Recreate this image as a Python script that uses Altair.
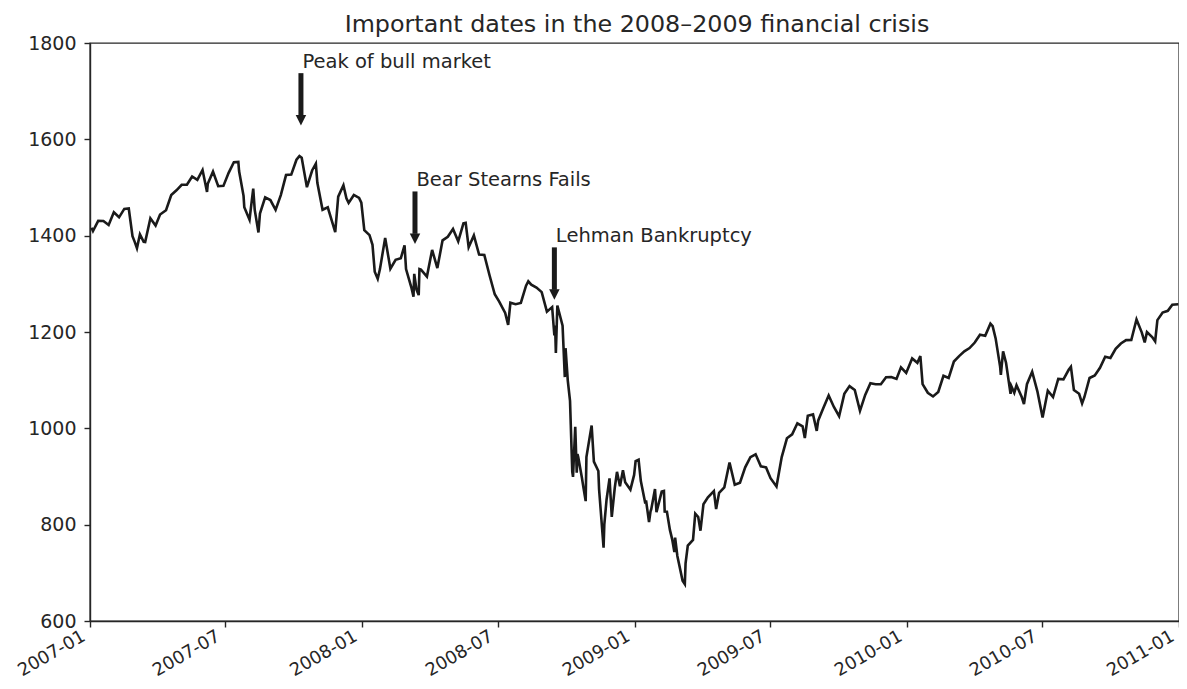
import altair as alt
import pandas as pd

# S&P 500 closing values (weekly, plus notable daily swings)
spx_2007 = [
    ("2007-01-03", 1416.6), ("2007-01-05", 1409.7), ("2007-01-12", 1430.7), ("2007-01-19", 1430.5),
    ("2007-01-26", 1422.2), ("2007-02-02", 1448.4), ("2007-02-09", 1438.1), ("2007-02-16", 1455.5),
    ("2007-02-22", 1456.4), ("2007-02-27", 1399.0), ("2007-03-02", 1387.2), ("2007-03-05", 1374.1),
    ("2007-03-09", 1402.8), ("2007-03-14", 1387.2), ("2007-03-16", 1386.9), ("2007-03-23", 1436.1),
    ("2007-03-30", 1420.9), ("2007-04-05", 1443.8), ("2007-04-13", 1452.9), ("2007-04-20", 1484.4),
    ("2007-04-27", 1494.1), ("2007-05-04", 1505.6), ("2007-05-11", 1505.9), ("2007-05-18", 1522.8),
    ("2007-05-25", 1515.7), ("2007-06-01", 1536.3), ("2007-06-07", 1490.7), ("2007-06-08", 1507.7),
    ("2007-06-15", 1532.9), ("2007-06-22", 1502.6), ("2007-06-29", 1503.4), ("2007-07-06", 1530.4),
    ("2007-07-13", 1552.5), ("2007-07-19", 1553.1), ("2007-07-20", 1534.1), ("2007-07-26", 1482.7),
    ("2007-07-27", 1458.9), ("2007-08-03", 1433.1), ("2007-08-08", 1497.5), ("2007-08-10", 1453.6),
    ("2007-08-15", 1406.7), ("2007-08-17", 1445.9), ("2007-08-24", 1479.4), ("2007-08-31", 1474.0),
    ("2007-09-07", 1453.6), ("2007-09-14", 1484.3), ("2007-09-21", 1525.8), ("2007-09-28", 1526.8),
    ("2007-10-05", 1557.6), ("2007-10-09", 1565.2), ("2007-10-12", 1561.8), ("2007-10-19", 1500.6),
    ("2007-10-26", 1535.3), ("2007-10-31", 1549.4), ("2007-11-02", 1509.7), ("2007-11-09", 1453.7),
    ("2007-11-16", 1458.7), ("2007-11-26", 1407.2), ("2007-11-30", 1481.1), ("2007-12-07", 1504.7),
    ("2007-12-11", 1477.7), ("2007-12-14", 1468.0), ("2007-12-21", 1484.5), ("2007-12-28", 1478.5),
    ("2007-12-31", 1468.4),
]

spx_2008 = [
    ("2008-01-04", 1411.6), ("2008-01-11", 1401.0), ("2008-01-15", 1380.9), ("2008-01-18", 1325.2),
    ("2008-01-22", 1310.5), ("2008-01-25", 1330.6), ("2008-02-01", 1395.4), ("2008-02-08", 1331.3),
    ("2008-02-15", 1350.0), ("2008-02-22", 1353.1), ("2008-02-27", 1380.0), ("2008-02-29", 1330.6),
    ("2008-03-07", 1293.4), ("2008-03-10", 1273.4), ("2008-03-11", 1320.7), ("2008-03-14", 1288.1),
    ("2008-03-17", 1276.6), ("2008-03-18", 1330.7), ("2008-03-20", 1329.5), ("2008-03-28", 1315.2),
    ("2008-04-04", 1370.4), ("2008-04-11", 1332.8), ("2008-04-18", 1390.3), ("2008-04-25", 1397.8),
    ("2008-05-02", 1413.9), ("2008-05-09", 1388.3), ("2008-05-16", 1425.4), ("2008-05-19", 1426.6),
    ("2008-05-23", 1375.9), ("2008-05-30", 1400.4), ("2008-06-06", 1360.7), ("2008-06-13", 1360.0),
    ("2008-06-20", 1317.9), ("2008-06-27", 1278.4), ("2008-07-03", 1262.9), ("2008-07-11", 1239.5),
    ("2008-07-15", 1214.9), ("2008-07-18", 1260.7), ("2008-07-25", 1257.8), ("2008-08-01", 1260.3),
    ("2008-08-08", 1296.3), ("2008-08-11", 1305.3), ("2008-08-15", 1298.2), ("2008-08-22", 1292.2),
    ("2008-08-29", 1282.8), ("2008-09-05", 1242.3), ("2008-09-12", 1251.7), ("2008-09-15", 1192.7),
    ("2008-09-16", 1213.6), ("2008-09-17", 1156.4), ("2008-09-19", 1255.1), ("2008-09-26", 1213.3),
    ("2008-09-29", 1106.4), ("2008-09-30", 1166.4), ("2008-10-03", 1099.2), ("2008-10-06", 1056.9),
    ("2008-10-09", 909.9), ("2008-10-10", 899.2), ("2008-10-13", 1003.4), ("2008-10-15", 907.8),
    ("2008-10-16", 946.4), ("2008-10-17", 940.6), ("2008-10-22", 896.8), ("2008-10-24", 876.8),
    ("2008-10-27", 848.9), ("2008-10-28", 940.5), ("2008-10-31", 968.8), ("2008-11-04", 1005.8),
    ("2008-11-07", 931.0), ("2008-11-13", 911.3), ("2008-11-14", 873.3), ("2008-11-20", 752.4),
    ("2008-11-21", 800.0), ("2008-11-24", 851.8), ("2008-11-28", 896.2), ("2008-12-01", 816.2),
    ("2008-12-05", 876.1), ("2008-12-08", 909.7), ("2008-12-12", 879.7), ("2008-12-16", 913.2),
    ("2008-12-19", 887.9), ("2008-12-26", 872.8), ("2008-12-31", 903.3),
]

spx_2009 = [
    ("2009-01-02", 931.8), ("2009-01-06", 934.7), ("2009-01-09", 890.4), ("2009-01-15", 843.7),
    ("2009-01-16", 850.1), ("2009-01-20", 805.2), ("2009-01-22", 827.5), ("2009-01-23", 832.0),
    ("2009-01-28", 874.1), ("2009-01-30", 825.9), ("2009-02-06", 868.6), ("2009-02-09", 869.9),
    ("2009-02-10", 827.2), ("2009-02-13", 826.8), ("2009-02-17", 789.2), ("2009-02-20", 770.1),
    ("2009-02-23", 743.3), ("2009-02-24", 773.1), ("2009-02-27", 735.1), ("2009-03-06", 683.4),
    ("2009-03-09", 676.5), ("2009-03-10", 719.6), ("2009-03-13", 756.6), ("2009-03-20", 768.5),
    ("2009-03-23", 822.9), ("2009-03-27", 815.9), ("2009-03-30", 787.5), ("2009-04-03", 842.5),
    ("2009-04-09", 856.6), ("2009-04-17", 869.6), ("2009-04-20", 832.4), ("2009-04-24", 866.2),
    ("2009-05-01", 877.5), ("2009-05-08", 929.2), ("2009-05-15", 882.9), ("2009-05-22", 887.0),
    ("2009-05-29", 919.1), ("2009-06-05", 940.1), ("2009-06-12", 946.2), ("2009-06-19", 921.2),
    ("2009-06-26", 918.9), ("2009-07-02", 896.4), ("2009-07-10", 879.1), ("2009-07-17", 940.4),
    ("2009-07-24", 979.3), ("2009-07-31", 987.5), ("2009-08-07", 1010.5), ("2009-08-14", 1004.1),
    ("2009-08-17", 979.7), ("2009-08-21", 1026.1), ("2009-08-28", 1028.9), ("2009-09-02", 994.8),
    ("2009-09-04", 1016.4), ("2009-09-11", 1042.7), ("2009-09-18", 1068.3), ("2009-09-25", 1044.4),
    ("2009-10-02", 1025.2), ("2009-10-09", 1071.5), ("2009-10-16", 1087.7), ("2009-10-23", 1079.6),
    ("2009-10-30", 1036.2), ("2009-11-06", 1069.3), ("2009-11-13", 1093.5), ("2009-11-20", 1091.4),
    ("2009-11-27", 1091.5), ("2009-12-04", 1106.0), ("2009-12-11", 1106.4), ("2009-12-18", 1102.5),
    ("2009-12-24", 1126.5), ("2009-12-31", 1115.1),
]

spx_2010 = [
    ("2010-01-08", 1145.0), ("2010-01-15", 1136.0), ("2010-01-19", 1150.2), ("2010-01-22", 1091.8),
    ("2010-01-29", 1073.9), ("2010-02-05", 1066.2), ("2010-02-12", 1075.5), ("2010-02-19", 1109.2),
    ("2010-02-26", 1104.5), ("2010-03-05", 1138.7), ("2010-03-12", 1150.0), ("2010-03-19", 1159.9),
    ("2010-03-26", 1166.6), ("2010-04-02", 1178.1), ("2010-04-09", 1194.4), ("2010-04-16", 1192.1),
    ("2010-04-23", 1217.3), ("2010-04-26", 1212.1), ("2010-04-30", 1186.7), ("2010-05-06", 1128.2),
    ("2010-05-07", 1110.9), ("2010-05-10", 1159.7), ("2010-05-14", 1135.7), ("2010-05-20", 1071.6),
    ("2010-05-21", 1087.7), ("2010-05-25", 1074.0), ("2010-05-28", 1089.4), ("2010-06-04", 1064.9),
    ("2010-06-07", 1050.5), ("2010-06-11", 1091.6), ("2010-06-18", 1117.5), ("2010-06-25", 1076.8),
    ("2010-07-02", 1022.6), ("2010-07-09", 1078.0), ("2010-07-16", 1064.9), ("2010-07-23", 1102.7),
    ("2010-07-30", 1101.6), ("2010-08-06", 1121.6), ("2010-08-09", 1127.8), ("2010-08-13", 1079.3),
    ("2010-08-20", 1071.7), ("2010-08-24", 1051.9), ("2010-08-27", 1064.6), ("2010-09-03", 1104.5),
    ("2010-09-10", 1109.6), ("2010-09-17", 1125.6), ("2010-09-24", 1148.7), ("2010-10-01", 1146.2),
    ("2010-10-08", 1165.2), ("2010-10-15", 1176.2), ("2010-10-22", 1183.1), ("2010-10-29", 1183.3),
    ("2010-11-05", 1225.9), ("2010-11-12", 1199.2), ("2010-11-16", 1178.3), ("2010-11-19", 1199.7),
    ("2010-11-26", 1189.4), ("2010-11-30", 1180.6), ("2010-12-03", 1224.7), ("2010-12-10", 1240.4),
    ("2010-12-17", 1243.9), ("2010-12-23", 1256.8), ("2010-12-31", 1257.6),
]

# Annotations
ann_dates = ["2007-10-11", "2008-03-12", "2008-09-15"]
ann_labels = ["Peak of bull market", "Bear Stearns Fails", "Lehman Bankruptcy"]
ann_close = [1554.4, 1308.8, 1192.7]

title_text = ["Important dates in the 2008\u20132009 financial crisis"]
y_ticks = [600, 800, 1000, 1200, 1400, 1600, 1800]
x_tick_months = [(2007, 1), (2007, 7), (2008, 1), (2008, 7), (2009, 1),
                 (2009, 7), (2010, 1), (2010, 7), (2011, 1)]

df = pd.DataFrame(spx_2007 + spx_2008 + spx_2009 + spx_2010, columns=["date", "close"])
ann = pd.DataFrame({"date": ann_dates, "label": ann_labels, "close": ann_close})
title_df = pd.DataFrame({"title": title_text})

FONT = "DejaVu Sans"
TXT = "#262626"
W, H = 1089, 578

x_scale = alt.Scale(type="utc", domain=[
    alt.DateTime(year=2007, month=1, date=1, utc=True),
    alt.DateTime(year=2011, month=1, date=1, utc=True),
])
y_scale = alt.Scale(domain=[600, 1800], nice=False, zero=False)

x_axis = alt.Axis(
    values=[alt.DateTime(year=y, month=m, date=1, utc=True) for y, m in x_tick_months],
    labelExpr="utcFormat(datum.value, '%Y-%m')",
    labelAngle=-30, labelAlign="right", labelBaseline="top", labelPadding=0,
    labelOffset=-11, labelFontSize=17.8,
    title=None, grid=False, labelOverlap=False, labelFlush=False,
)
y_axis = alt.Axis(values=y_ticks, format="d", title=None, grid=False, labelPadding=8)

X = alt.X("date:T", scale=x_scale, axis=x_axis)
Y = alt.Y("close:Q", scale=y_scale, axis=y_axis)

line = alt.Chart(df).mark_line(color="#1a1a1a", strokeWidth=2.6, clip=True).encode(x=X, y=Y)

ann_base = alt.Chart(ann).transform_calculate(
    text_y="datum.close + 225",
    shaft_top="datum.close + 183",
    shaft_bot="datum.close + 95",
    head_y="datum.close + 85",
)

shaft = ann_base.mark_rule(color="#1a1a1a", strokeWidth=5).encode(
    x=alt.X("date:T", scale=x_scale, axis=x_axis),
    y=alt.Y("shaft_top:Q", scale=y_scale, axis=y_axis),
    y2="shaft_bot:Q",
)
head = ann_base.mark_point(
    shape="M-1,-1L1,-1L0,1Z", size=110, filled=True, color="#1a1a1a", opacity=1, strokeWidth=0
).encode(
    x=alt.X("date:T", scale=x_scale, axis=x_axis),
    y=alt.Y("head_y:Q", scale=y_scale, axis=y_axis),
)
labels = ann_base.mark_text(
    align="left", baseline="top", font=FONT, fontSize=19.5, color=TXT, dx=1.5
).encode(
    x=alt.X("date:T", scale=x_scale, axis=x_axis),
    y=alt.Y("text_y:Q", scale=y_scale, axis=y_axis),
    text="label:N",
)

title = alt.Chart(title_df).mark_text(
    align="center", baseline="alphabetic", font=FONT, fontSize=23.8, color=TXT
).encode(
    x=alt.value(547), y=alt.value(-11), text="title:N"
)

chart = alt.layer(line, shaft, head, labels, title).properties(
    width=W,
    height=H,
    padding={"left": 82, "top": 35, "right": 0, "bottom": 60},
    autosize=alt.AutoSizeParams(type="none"),
).configure_view(
    stroke="#262626", strokeWidth=1.4
).configure_axis(
    labelFont=FONT, labelFontSize=19, labelColor=TXT,
    domainColor="#262626", domainWidth=1.4,
    tickColor="#262626", tickWidth=1.4, tickSize=6,
)

chart.save("out.html", embed_options={"renderer": "svg", "actions": False})
